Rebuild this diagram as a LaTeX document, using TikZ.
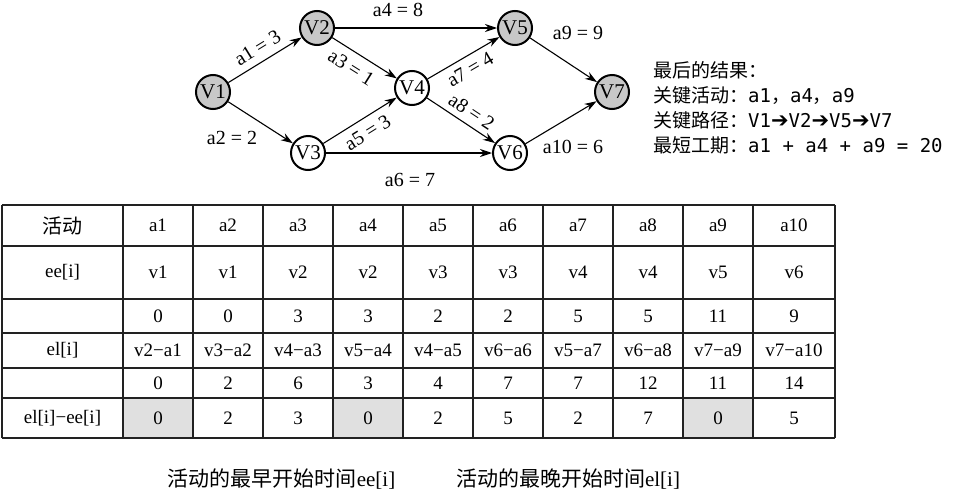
\documentclass[tikz,border=0pt]{standalone}
\usepackage{fontspec}
\setmainfont{Liberation Serif}
\newfontfamily\cjkfont{Noto Sans CJK SC}
\newfontfamily\monofont{DejaVu Sans Mono}
\newfontfamily\symfont{DejaVu Sans}
\usetikzlibrary{arrows.meta,positioning}
\definecolor{NodeGray}{HTML}{C8C8C8}
\definecolor{CellGray}{HTML}{E0E0E0}
\definecolor{RuleDark}{HTML}{222222}
\tikzset{
  vtx/.style={circle, draw=black, line width=2pt, fill=white, minimum size=34pt,
              inner sep=0pt, font=\fontsize{21}{21}\selectfont},
  crit/.style={vtx, fill=NodeGray},
  arc/.style={-{Stealth[length=12pt,width=8pt]}, line width=1.1pt},
  wlabel/.style={font=\fontsize{20}{20}\selectfont, inner sep=1pt},
  cell/.style={font=\fontsize{19}{19}\selectfont, inner sep=0pt},
  tableline/.style={line width=1.2pt, draw=RuleDark},
  note/.style={font=\cjkfont\fontsize{19}{25}\selectfont, align=left,
               anchor=north west, inner sep=0pt},
  caption/.style={font=\fontsize{21}{21}\selectfont, inner sep=0pt},
}
\newcommand{\pathto}{{\symfont\fontsize{21}{21}\selectfont\char"2794}}
\begin{document}
\begin{tikzpicture}[x=1pt,y=-1pt]
  \fill[white] (0,0) rectangle (971,490);
  \useasboundingbox (0,0) rectangle (971,490);
  % activity network
  \node[crit] (v1) at (213,92) {V1};
  \node[crit] (v2) at (317,28) {V2};
  \node[vtx] (v3) at (308,153) {V3};
  \node[vtx] (v4) at (412,88) {V4};
  \node[crit] (v5) at (515,28) {V5};
  \node[vtx] (v6) at (510,153) {V6};
  \node[crit] (v7) at (612,92) {V7};
  \draw[arc] (v1) -- node[wlabel,sloped,above=6pt] (l1) {a1 = 3} (v2);
  \draw[arc] (v1) -- (v3);
  \draw[arc] (v2) -- node[wlabel,sloped,below=7pt,pos=0.42] (l3) {a3 = 1} (v4);
  \draw[arc] (v2) -- (v5);
  \draw[arc] (v3) -- node[wlabel,sloped,below=6pt] (l5) {a5 = 3} (v4);
  \draw[arc] (v3) -- (v6);
  \draw[arc] (v4) -- node[wlabel,sloped,below=5pt] (l7) {a7 = 4} (v5);
  \draw[arc] (v4) -- node[wlabel,sloped,above=5pt,pos=0.55] (l8) {a8 = 2} (v6);
  \draw[arc] (v5) -- (v7);
  \draw[arc] (v6) -- (v7);
  \node[wlabel] (l2) at (232,138) {a2 = 2};
  \node[wlabel] (l4) at (398,10) {a4 = 8};
  \node[wlabel] (l6) at (410,180) {a6 = 7};
  \node[wlabel] (l9) at (578,33) {a9 = 9};
  \node[wlabel] (l10) at (573,147) {a10 = 6};
  % result
  \node[note] (result) at (653,61) {最后的结果：\\
    关键活动：{\monofont a1}，{\monofont a4}，{\monofont a9}\\
    关键路径：{\monofont V1}\pathto{\monofont V2}\pathto{\monofont V5}\pathto{\monofont V7}\\
    最短工期：{\monofont a1 + a4 + a9 = 20}};
  % table
  \fill[CellGray] (123,398) rectangle (193,438);
  \fill[CellGray] (333,398) rectangle (403,438);
  \fill[CellGray] (683,398) rectangle (753,438);
  \foreach \x in {2,123,193,...,753,835}
    \draw[tableline] (\x,205) -- (\x,438);
  \foreach \y in {205,246,299,333,368,398,438}
    \draw[tableline] (2,\y) -- (835,\y);
  \node[cell,font=\cjkfont\fontsize{20}{20}\selectfont] (r-1) at (62.5,225.5) {活动};
  \node[cell] (r-2) at (62.5,272.5) {ee[i]};
  \node[cell] (r-4) at (62.5,350.5) {el[i]};
  \node[cell] (r-6) at (62.5,418) {el[i]−ee[i]};
  \foreach \vals/\yy [count=\r] in {
      {a1,a2,a3,a4,a5,a6,a7,a8,a9,a10}/225.5,
      {v1,v1,v2,v2,v3,v3,v4,v4,v5,v6}/272.5,
      {0,0,3,3,2,2,5,5,11,9}/316,
      {v2−a1,v3−a2,v4−a3,v5−a4,v4−a5,v6−a6,v5−a7,v6−a8,v7−a9,v7−a10}/350.5,
      {0,2,6,3,4,7,7,12,11,14}/383,
      {0,2,3,0,2,5,2,7,0,5}/418}
    \foreach \t [count=\k] in \vals {
      \pgfmathsetmacro{\cx}{\k<10 ? 88+70*\k : 794}
      \node[cell] (c-\r-\k) at (\cx,\yy) {\t};
    }
  % captions
  \node[caption] (cap-ee) at (281.5,479) {{\cjkfont 活动的最早开始时间}ee[i]};
  \node[caption] (cap-el) at (568,479) {{\cjkfont 活动的最晚开始时间}el[i]};
\end{tikzpicture}
\end{document}
